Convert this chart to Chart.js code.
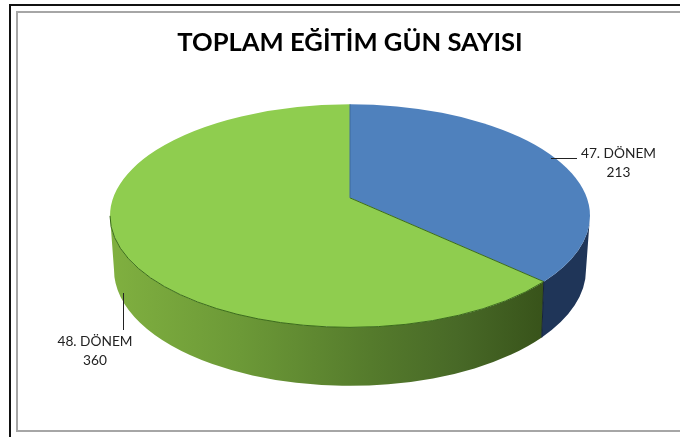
<!DOCTYPE html>
<html lang="tr">
<head>
<meta charset="utf-8">
<title>TOPLAM EĞİTİM GÜN SAYISI</title>
<script src="https://cdn.jsdelivr.net/npm/chart.js@4"></script>
<style>
  html, body { margin: 0; padding: 0; background: #fff; }
  #wrap { position: relative; width: 680px; height: 437px; overflow: hidden; }
  #chart { position: absolute; left: 0; top: 0; }
  /* the two frames of the original slide, cut off by the picture on the right and below */
  .outer { position: absolute; left: 9px; top: 4px; width: 680px; height: 450px; border: 2px solid #111; box-sizing: border-box; }
  .inner { position: absolute; left: 16px; top: 11px; width: 680px; height: 421px; border: 2px solid #a6a6a6; box-sizing: border-box; }
</style>
</head>
<body>
<div id="wrap">
  <div class="outer"></div>
  <div class="inner"></div>
  <canvas id="chart" width="680" height="437"></canvas>
</div>
<script>
const chartTitle = "TOPLAM EĞİTİM GÜN SAYISI";
const categories = ["47. DÖNEM", "48. DÖNEM"];
const values = [213, 360];
const sliceColors = ["#4f81bd", "#8fcd4f"];

// look of the tilted disc
const RADIUS_X = 240;
const RADIUS_Y = 111.5;
const APEX_SHIFT = 18;      // perspective moves the centre up from the ellipse centre
const RAY_SQUASH = 0.97;
const BOTTOM = { dy: 54, rx: 236, ry: 116 };

// canvas angle of a slice -> parameter angle on the rim ellipse, seen from the shifted apex
function rimAngle(t) {
  const h = APEX_SHIFT / RADIUS_Y;
  const u = Math.cos(t), v = RAY_SQUASH * Math.sin(t);
  const len = u * u + v * v;
  const s = (h * v + Math.sqrt(h * h * v * v - len * (h * h - 1))) / len;
  return Math.atan2(s * v - h, s * u);
}

const disc3d = {
  id: "disc3d",
  beforeDatasetsDraw(chart) {
    const ctx = chart.ctx;
    const arcs = chart.getDatasetMeta(0).data;
    const cx = arcs[0].x, cy = arcs[0].y;
    const by = cy + BOTTOM.dy;
    const apexY = cy - APEX_SHIFT;

    // where the two slices meet on the front of the rim
    const seam = rimAngle(arcs[0].endAngle);
    const seamX = cx + RADIUS_X * Math.cos(seam);
    const seamY = cy + RADIUS_Y * Math.sin(seam);
    const seamB = Math.acos((seamX - 2 - cx) / BOTTOM.rx);

    // green wall
    const grad = ctx.createLinearGradient(cx - RADIUS_X, 0, seamX, 0);
    grad.addColorStop(0, "#80b040");
    grad.addColorStop(0.3, "#6c9937");
    grad.addColorStop(0.6, "#557b2c");
    grad.addColorStop(0.8, "#486927");
    grad.addColorStop(1, "#38531a");
    ctx.beginPath();
    ctx.ellipse(cx, cy, RADIUS_X, RADIUS_Y, 0, Math.PI, seam, true);
    ctx.ellipse(cx, by, BOTTOM.rx, BOTTOM.ry, 0, seamB, Math.PI, false);
    ctx.closePath();
    ctx.fillStyle = grad;
    ctx.fill();

    // blue wall
    ctx.beginPath();
    ctx.ellipse(cx, cy, RADIUS_X, RADIUS_Y, 0, seam, 0, true);
    ctx.ellipse(cx, by, BOTTOM.rx, BOTTOM.ry, 0, 0, seamB, false);
    ctx.closePath();
    ctx.fillStyle = "#1f3558";
    ctx.fill();

    // top faces
    arcs.forEach((arc, i) => {
      ctx.beginPath();
      ctx.moveTo(cx, apexY);
      ctx.ellipse(cx, cy, RADIUS_X, RADIUS_Y, 0, rimAngle(arc.startAngle), rimAngle(arc.endAngle), false);
      ctx.closePath();
      ctx.fillStyle = sliceColors[i];
      ctx.fill();
    });

    // dark edges: front rim of the green slice and the slice borders
    ctx.lineWidth = 1;
    ctx.strokeStyle = "#3a6a1a";
    ctx.beginPath();
    ctx.ellipse(cx, cy, RADIUS_X, RADIUS_Y, 0, Math.PI, seam, true);
    ctx.stroke();
    ctx.beginPath();
    ctx.moveTo(cx, apexY);
    ctx.lineTo(seamX, seamY);
    ctx.stroke();
    ctx.strokeStyle = "#3f6a9c";
    ctx.beginPath();
    ctx.moveTo(cx, apexY);
    ctx.lineTo(cx, cy - RADIUS_Y);
    ctx.stroke();

    // seam between the walls
    ctx.beginPath();
    ctx.moveTo(seamX, seamY);
    ctx.lineTo(seamX - 2, by + BOTTOM.ry * Math.sin(seamB));
    ctx.strokeStyle = "#16233a";
    ctx.stroke();
    return false;
  },
  afterDraw(chart) {
    const ctx = chart.ctx;
    const spots = [
      { x: 618.5, y: 154, line: [551, 158.5, 577, 158.5] },
      { x: 95, y: 342, line: [123.5, 293, 123.5, 330] }
    ];
    ctx.save();
    spots.forEach((s, i) => {
      ctx.beginPath();
      ctx.moveTo(s.line[0], s.line[1]);
      ctx.lineTo(s.line[2], s.line[3]);
      ctx.lineWidth = 1;
      ctx.strokeStyle = "#222";
      ctx.stroke();
      ctx.font = "13.7px Lato";
      ctx.fillStyle = "#222";
      ctx.textAlign = "center";
      ctx.textBaseline = "middle";
      ctx.fillText(categories[i], s.x, s.y);
      ctx.fillText(String(values[i]), s.x, s.y + 19);
    });
    ctx.restore();
  }
};

new Chart(document.getElementById("chart"), {
  type: "pie",
  data: {
    labels: categories,
    datasets: [{ data: values, backgroundColor: sliceColors, borderWidth: 0 }]
  },
  options: {
    responsive: false,
    animation: false,
    radius: RADIUS_X,
    layout: { padding: { left: 20, right: 0, top: 0, bottom: 63 } },
    plugins: {
      legend: { display: false },
      tooltip: { enabled: false },
      title: {
        display: true,
        text: chartTitle,
        fullSize: false,
        color: "#000",
        font: { family: "Lato", size: 25.6, weight: "bold" },
        padding: { top: 27, bottom: 0 }
      }
    }
  },
  plugins: [disc3d]
});
</script>
</body>
</html>
